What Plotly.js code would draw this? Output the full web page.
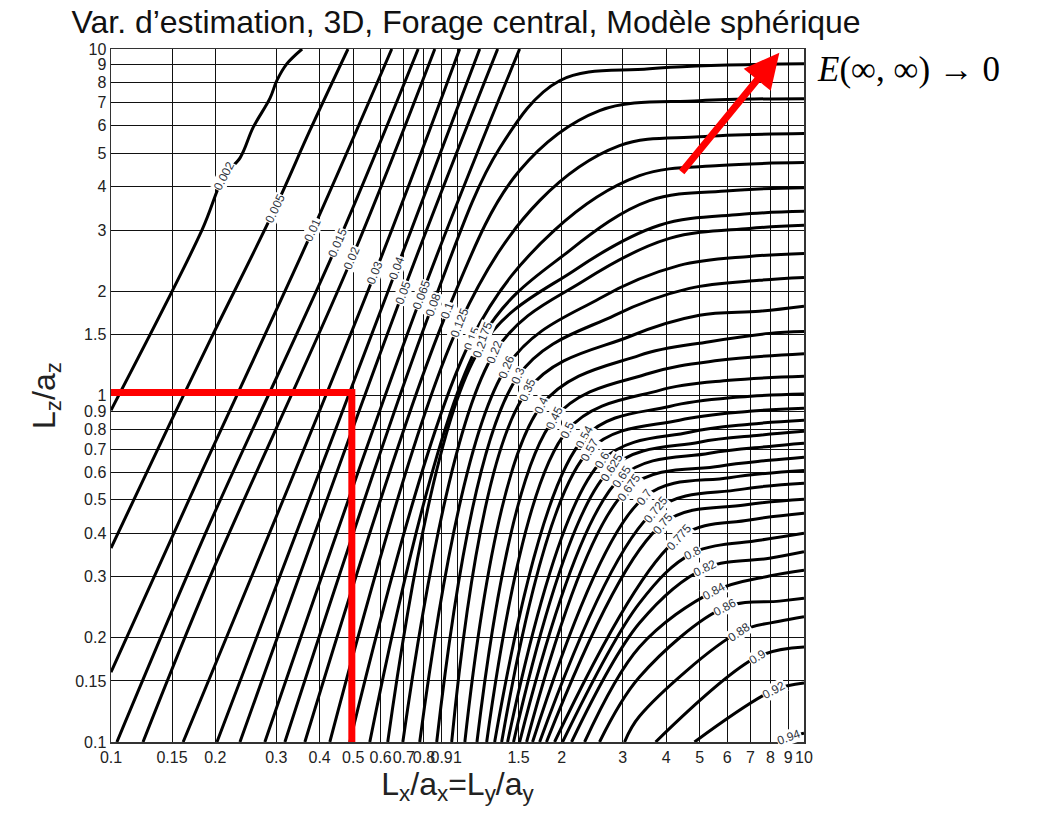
<!DOCTYPE html>
<html><head><meta charset="utf-8">
<script src="https://cdn.plot.ly/plotly-3.0.1.min.js"></script>
<style>html,body{margin:0;padding:0;background:#fff}#chart{width:1038px;height:815px}</style>
</head><body><div id="chart"></div>
<script>
// Contour levels and their labels
const levelLabels = ['0.002','0.005','0.01','0.015','0.02','0.03','0.04','0.05','0.065','0.08','0.1','0.125','0.15','0.175','0.2','0.22','0.26','0.3','0.35','0.4','0.45','0.5','0.54','0.57','0.6','0.625','0.65','0.675','0.7','0.725','0.75','0.775','0.8','0.82','0.84','0.86','0.88','0.9','0.92','0.94'];

// Contour paths [Lx/ax, Lz/az]
const c0_002 = [[0.1,0.907],[0.183,3.0],[0.212,4.3],[0.236,4.86],[0.257,5.93],[0.2875,7.2],[0.301,8.1],[0.322,9.07],[0.356,10]];
const c0_005 = [[0.1,0.363],[0.148,0.831],[0.193,1.44],[0.297,3.46],[0.375,5.82],[0.483,10]];
const c0_01 = [[0.1,0.159],[0.178,0.569],[0.382,3.0],[0.646,10]];
const c0_015 = [[0.104,0.1],[0.193,0.428],[0.451,2.75],[0.77,10]];
const c0_02 = [[0.1237,0.1],[0.193,0.299],[0.4955,2.49],[0.86,10]];
const c0_03 = [[0.1615,0.1],[0.5788,2.265],[1.0145,10]];
const c0_04 = [[0.2022,0.1],[0.668,2.33],[1.159,10]];
const c0_05 = [[0.2356,0.1],[0.695,1.98],[1.306,10]];
const c0_065 = [[0.278,0.1],[0.788,1.946],[1.511,10]];
const c0_08 = [[0.3176,0.1],[0.8485,1.83],[1.323,5.17],[1.971,8.1],[3.581,8.77],[10,9.07]];
const c0_1 = [[0.3627,0.1],[0.937,1.76],[1.511,4.46],[2.57,6.64],[4.99,7.09],[10,7.19]];
const c0_125 = [[0.4281,0.1],[1.0145,1.615],[1.726,3.65],[2.935,5.26],[4.99,5.58],[10,5.70]];
const c0_15 = [[0.4889,0.1],[1.098,1.458],[1.906,3.0],[3.351,4.31],[5.699,4.61],[10,4.70]];
const c0_175 = [[0.5583,0.1],[1.182,1.48],[2.106,2.62],[3.581,3.65],[6.09,3.9],[10,3.98]];
const c0_2 = [[0.629,0.1],[1.159,1.36],[2.177,2.30],[3.827,3.10],[6.508,3.33],[10,3.40]];
const c0_22 = [[0.6954,0.1],[1.28,1.332],[2.327,2.15],[4.09,2.84],[6.955,3.035],[10,3.10]];
const c0_26 = [[0.778,0.1],[1.386,1.207],[2.57,1.906],[4.37,2.374],[6.955,2.52],[10,2.57]];
const c0_3 = [[0.871,0.1],[1.495,1.137],[2.84,1.704],[4.67,2.038],[7.432,2.15],[10,2.19]];
const c0_35 = [[0.962,0.1],[1.594,1.035],[3.136,1.48],[4.99,1.704],[7.432,1.75],[10,1.81]];
const c0_4 = [[1.05,0.1],[1.749,0.937],[3.351,1.306],[5.333,1.43],[7.943,1.511],[10,1.53]];
const c0_45 = [[1.138,0.1],[1.906,0.86],[3.581,1.159],[5.699,1.263],[10,1.32]];
const c0_5 = [[1.214,0.1],[2.078,0.794],[3.827,1.035],[6.09,1.106],[10,1.137]];
const c0_54 = [[1.28,0.1],[2.327,0.757],[4.09,0.93],[6.508,0.99],[10,1.01]];
const c0_57 = [[1.341,0.1],[2.405,0.6954],[4.37,0.848],[6.955,0.9],[10,0.919]];
const c0_6 = [[1.395,0.1],[2.62,0.65],[4.67,0.783],[6.955,0.826],[10,0.848]];
const c0_625 = [[1.451,0.1],[2.783,0.617],[4.99,0.733],[7.432,0.768],[10,0.788]];
const c0_65 = [[1.511,0.1],[2.974,0.582],[5.333,0.681],[7.943,0.713],[10,0.728]];
const c0_675 = [[1.583,0.1],[3.136,0.543],[5.699,0.625],[7.943,0.65],[10,0.664]];
const c0_7 = [[1.647,0.1],[3.464,0.509],[6.09,0.579],[10,0.608]];
const c0_725 = [[1.726,0.1],[3.73,0.467],[6.508,0.535],[10,0.558]];
const c0_75 = [[1.806,0.1],[3.93,0.428],[6.73,0.483],[10,0.502]];
const c0_775 = [[1.906,0.1],[4.37,0.39],[6.955,0.437],[10,0.4575]];
const c0_8 = [[2.01,0.1],[3.351,0.2517],[4.77,0.351],[7.432,0.382],[10,0.4006]];
const c0_82 = [[2.134,0.1],[3.351,0.2204],[5.19,0.3176],[7.943,0.339],[10,0.354]];
const c0_84 = [[2.327,0.1],[3.351,0.188],[5.51,0.2727],[7.943,0.3012],[10,0.313]];
const c0_86 = [[2.57,0.1],[3.351,0.154],[5.93,0.245],[8.488,0.255],[10,0.26]];
const c0_88 = [[3.035,0.1],[3.351,0.1187],[6.508,0.208],[8.488,0.223],[10,0.23]];
const c0_9 = [[3.73,0.1],[7.33,0.176],[10,0.188]];
const c0_92 = [[4.83,0.1],[8.2,0.1413],[10,0.148]];
const c0_94 = [[8.488,0.1],[9.07,0.1034],[10,0.106]];

const contours = [c0_002,c0_005,c0_01,c0_015,c0_02,c0_03,c0_04,c0_05,c0_065,c0_08,c0_1,c0_125,c0_15,c0_175,c0_2,c0_22,c0_26,c0_3,c0_35,c0_4,c0_45,c0_5,c0_54,c0_57,c0_6,c0_625,c0_65,c0_675,c0_7,c0_725,c0_75,c0_775,c0_8,c0_82,c0_84,c0_86,c0_88,c0_9,c0_92,c0_94];
// index of the path point carrying the label
const labelAt = [2,3,2,2,2,1,1,1,1,1,1,1,1,1,1,1,1,1,1,1,1,1,1,1,1,1,1,1,1,1,1,1,2,2,2,2,2,1,1,1];

// Axis ticks
const tickVals = [0.1,0.15,0.2,0.3,0.4,0.5,0.6,0.7,0.8,0.9,1,1.5,2,3,4,5,6,7,8,9,10];
const tickText = ['0.1','0.15','0.2','0.3','0.4','0.5','0.6','0.7','0.8','0.9','1','1.5','2','3','4','5','6','7','8','9','10'];

// Red annotation: chosen block (L-shaped guide) and arrow
const redX = [0.1,0.4955,0.4955];
const redY = [1.02,1.02,0.1];
const arrowFrom = [4.40,4.37];
const arrowTo = [8.49,9.76];

const traces = contours.map(pts => ({
  type:'scatter', mode:'lines', x:pts.map(p=>p[0]), y:pts.map(p=>p[1]),
  line:{color:'#000', width:3, shape:'spline', smoothing:1}, hoverinfo:'skip', showlegend:false
}));
traces.push({type:'scatter', mode:'lines', x:redX, y:redY, line:{color:'#ff0000', width:7}, cliponaxis:false, hoverinfo:'skip', showlegend:false});

const L = Math.log10;
const annotations = contours.map((pts,k)=>{
  const i = labelAt[k];
  const a = pts[Math.max(0,i-1)], b = pts[Math.min(pts.length-1,i+1)];
  const ang = -Math.atan2(L(b[1])-L(a[1]), L(b[0])-L(a[0]))*180/Math.PI;
  return {x:L(pts[i][0]), y:L(pts[i][1]), xref:'x', yref:'y', text:levelLabels[k], showarrow:false,
    textangle:ang, bgcolor:'#fff', borderpad:0, font:{size:12, color:'#2e3440'}};
});
annotations.push({x:L(arrowTo[0]), y:L(arrowTo[1]), ax:L(arrowFrom[0]), ay:L(arrowFrom[1]),
  xref:'x', yref:'y', axref:'x', ayref:'y', showarrow:true, text:'', arrowcolor:'#ff0000',
  arrowwidth:7, arrowhead:2, arrowsize:1.0, standoff:0, startstandoff:0});
annotations.push({xref:'paper', yref:'paper', x:1.1515, y:0.9697, xanchor:'center', yanchor:'middle',
  text:'<i>E</i>(∞, ∞) → 0', showarrow:false, font:{family:'Liberation Serif, DejaVu Serif, serif', size:35, color:'#000'}});

const axisBase = {type:'log', range:[-1,1], tickvals:tickVals, ticktext:tickText, tickangle:0,
  showgrid:true, gridcolor:'#111', gridwidth:1, showline:true, linecolor:'#333', linewidth:1.5, mirror:true,
  ticks:'', zeroline:false, tickfont:{size:16, color:'#222'}};

const layout = {
  width:1038, height:815, margin:{l:111, r:234, t:49, b:73},
  paper_bgcolor:'#fff', plot_bgcolor:'#fff',
  font:{family:'Liberation Sans, Arial, sans-serif', color:'#222'},
  title:{text:'Var. d’estimation, 3D, Forage central, Modèle sphérique', font:{size:32, color:'#111'},
    x:0.449, xanchor:'center', y:0.973, yanchor:'middle'},
  xaxis:Object.assign({}, axisBase, {title:{text:'L<sub>x</sub>/a<sub>x</sub>=L<sub>y</sub>/a<sub>y</sub>', font:{size:32, color:'#222'}, standoff:2}}),
  yaxis:Object.assign({}, axisBase, {title:{text:'L<sub>z</sub>/a<sub>z</sub>', font:{size:32, color:'#222'}, standoff:10}}),
  annotations:annotations, showlegend:false
};
Plotly.newPlot('chart', traces, layout, {displayModeBar:false, staticPlot:true});
</script></body></html>
